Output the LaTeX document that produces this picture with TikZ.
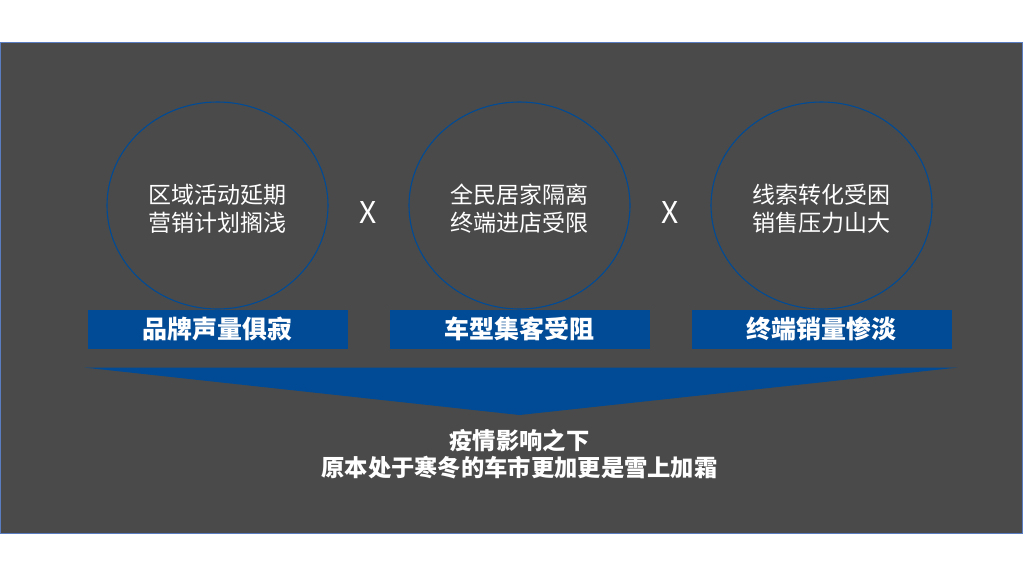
\documentclass[tikz,border=0pt]{standalone}
\usepackage{fontspec}
\setmainfont{Noto Sans CJK SC}
\newfontfamily\cjk{Noto Sans CJK SC}
\newfontfamily\cjklight{Noto Sans CJK SC Light}
\definecolor{bg}{HTML}{4A4A4A}
\definecolor{frame}{HTML}{5A7CC0}
\definecolor{navy}{HTML}{004A96}
\tikzset{
  circtext/.style={text=white, font=\cjk\fontsize{23}{28}\selectfont, align=center},
  barbox/.style={fill=navy, minimum width=260pt, minimum height=39pt, inner sep=0pt, text=white, font=\cjk\bfseries\fontsize{25}{30}\selectfont},
  times/.style={text=white, font=\cjk\fontsize{30}{34}\selectfont, inner sep=0pt},
  bottomtext/.style={text=white, font=\cjk\bfseries\fontsize{23.3}{27}\selectfont, align=center}
}
\begin{document}
\begin{tikzpicture}[x=1pt,y=-1pt]
\useasboundingbox (0,0) rectangle (1024,576);
\fill[white] (0,0) rectangle (1024,576);
\draw[draw=frame, fill=bg, line width=1pt] (0.5,42.5) rectangle (1022.5,533);
% circles
\draw[draw=navy, line width=1.1pt] (217.5,205.5) ellipse [x radius=110.5, y radius=103.5];
\draw[draw=navy, line width=1.1pt] (519.5,205.5) ellipse [x radius=110.5, y radius=103.5];
\draw[draw=navy, line width=1.1pt] (821.5,205.5) ellipse [x radius=110.5, y radius=103.5];
\node[circtext] (t1) at (217.5,209) {区域活动延期\\营销计划搁浅};
\node[circtext] (t2) at (519.5,209) {全民居家隔离\\终端进店受限};
\node[circtext] (t3) at (821.5,209) {线索转化受困\\销售压力山大};
\node[times] (x1) at (368,212) {X};
\node[times] (x2) at (670,212) {X};
% bars
\node[barbox] (b1) at (217.5,329) {品牌声量俱寂};
\node[barbox] (b2) at (519.5,329) {车型集客受阻};
\node[barbox] (b3) at (821.5,329) {终端销量惨淡};
% funnel triangle
\fill[navy] (84,367.5) -- (958,367.5) -- (519.5,415) -- cycle;
\node[bottomtext] (bt) at (519.5,454) {疫情影响之下\\原本处于寒冬的车市更加更是雪上加霜};
\end{tikzpicture}
\end{document}
